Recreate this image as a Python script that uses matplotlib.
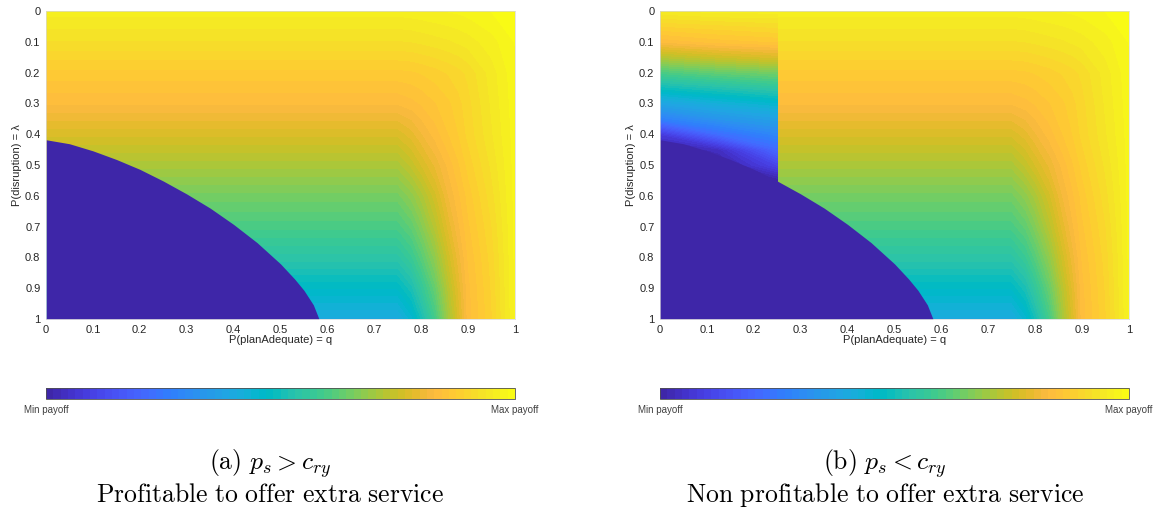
import numpy as np
import matplotlib
matplotlib.use("Agg")
import matplotlib.pyplot as plt
from matplotlib.colors import ListedColormap, Normalize
from matplotlib.colorbar import ColorbarBase

# ---------------- data ----------------
# main payoff field, normalised 0 (min) .. 1 (max); rows = lambda, cols = q
q_nodes = [0.0, 0.75, 0.78, 0.80, 0.83, 0.86, 0.88, 0.90, 0.95, 1.0]
lam_nodes = [0.0, 0.1, 0.2, 0.3, 0.4, 0.5, 0.6, 0.7, 0.8, 0.9, 1.0]
payoff_main = [
    [0.960, 0.960, 0.962, 0.964, 0.967, 0.970, 0.972, 0.975, 0.985, 0.995],
    [0.920, 0.920, 0.922, 0.925, 0.930, 0.935, 0.940, 0.945, 0.962, 0.985],
    [0.870, 0.870, 0.872, 0.876, 0.883, 0.893, 0.900, 0.910, 0.945, 0.980],
    [0.830, 0.830, 0.838, 0.845, 0.858, 0.872, 0.885, 0.900, 0.940, 0.978],
    [0.770, 0.770, 0.790, 0.810, 0.835, 0.860, 0.875, 0.895, 0.935, 0.976],
    [0.710, 0.710, 0.740, 0.765, 0.800, 0.835, 0.857, 0.880, 0.925, 0.975],
    [0.650, 0.650, 0.680, 0.710, 0.760, 0.815, 0.840, 0.865, 0.915, 0.974],
    [0.600, 0.600, 0.630, 0.665, 0.725, 0.790, 0.825, 0.855, 0.905, 0.973],
    [0.540, 0.540, 0.575, 0.615, 0.680, 0.760, 0.805, 0.845, 0.897, 0.972],
    [0.470, 0.470, 0.510, 0.560, 0.635, 0.730, 0.785, 0.838, 0.892, 0.971],
    [0.400, 0.400, 0.445, 0.500, 0.590, 0.705, 0.770, 0.835, 0.888, 0.970],
]

# left strip of panel (b) (q < 0.25): extra service not profitable
strip_q = [0.0, 0.125, 0.25]
strip_lam = [0.0, 0.05, 0.1, 0.15, 0.2, 0.25, 0.3, 0.35, 0.4, 0.45, 0.5, 0.55, 1.0]
payoff_strip = [
    [0.95, 0.96, 0.96],
    [0.89, 0.90, 0.91],
    [0.83, 0.85, 0.86],
    [0.72, 0.75, 0.77],
    [0.60, 0.63, 0.65],
    [0.49, 0.52, 0.55],
    [0.38, 0.42, 0.45],
    [0.27, 0.33, 0.37],
    [0.08, 0.22, 0.29],
    [0.00, 0.04, 0.21],
    [0.00, 0.00, 0.11],
    [0.00, 0.00, 0.00],
    [0.00, 0.00, 0.00],
]

# boundary of the minimum-payoff region
boundary_q = [0.0, 0.05, 0.1, 0.15, 0.2, 0.25, 0.3, 0.35, 0.4, 0.45, 0.5, 0.53, 0.55, 0.57, 0.582]
boundary_lam = [0.418, 0.431, 0.454, 0.482, 0.514, 0.552, 0.594, 0.640, 0.693, 0.752, 0.821,
                0.870, 0.907, 0.954, 1.0]

tick_values = [0, 0.1, 0.2, 0.3, 0.4, 0.5, 0.6, 0.7, 0.8, 0.9, 1]
tick_labels = ["0", "0.1", "0.2", "0.3", "0.4", "0.5", "0.6", "0.7", "0.8", "0.9", "1"]
cbar_labels = ["Min payoff", "Max payoff"]
captions = [
    (r"$\mathrm{(a)}\ p_s > c_{ry}$", r"$\mathrm{Profitable\ to\ offer\ extra\ service}$"),
    (r"$\mathrm{(b)}\ p_s < c_{ry}$", r"$\mathrm{Non\ profitable\ to\ offer\ extra\ service}$"),
]

# ---------------- style ----------------
PARULA = [
    (0.2422, 0.1504, 0.6603), (0.2504, 0.1650, 0.7076), (0.2578, 0.1818, 0.7511), (0.2647, 0.1978, 0.7952),
    (0.2706, 0.2147, 0.8364), (0.2751, 0.2342, 0.8710), (0.2783, 0.2559, 0.8991), (0.2803, 0.2782, 0.9221),
    (0.2813, 0.3006, 0.9414), (0.2810, 0.3228, 0.9579), (0.2795, 0.3447, 0.9717), (0.2760, 0.3667, 0.9829),
    (0.2699, 0.3892, 0.9906), (0.2602, 0.4123, 0.9952), (0.2440, 0.4358, 0.9988), (0.2206, 0.4603, 0.9973),
    (0.1963, 0.4847, 0.9892), (0.1834, 0.5074, 0.9798), (0.1786, 0.5289, 0.9682), (0.1764, 0.5499, 0.9520),
    (0.1687, 0.5703, 0.9359), (0.1540, 0.5902, 0.9218), (0.1460, 0.6091, 0.9079), (0.1380, 0.6276, 0.8973),
    (0.1248, 0.6459, 0.8883), (0.1113, 0.6635, 0.8763), (0.0952, 0.6798, 0.8598), (0.0689, 0.6948, 0.8394),
    (0.0297, 0.7082, 0.8163), (0.0036, 0.7203, 0.7917), (0.0067, 0.7312, 0.7660), (0.0433, 0.7411, 0.7394),
    (0.0964, 0.7500, 0.7120), (0.1408, 0.7584, 0.6842), (0.1717, 0.7670, 0.6554), (0.1938, 0.7758, 0.6251),
    (0.2161, 0.7843, 0.5923), (0.2470, 0.7918, 0.5567), (0.2906, 0.7973, 0.5188), (0.3406, 0.8008, 0.4789),
    (0.3909, 0.8029, 0.4354), (0.4456, 0.8024, 0.3909), (0.5044, 0.7993, 0.3480), (0.5616, 0.7942, 0.3045),
    (0.6174, 0.7876, 0.2612), (0.6720, 0.7793, 0.2227), (0.7242, 0.7698, 0.1910), (0.7738, 0.7598, 0.1646),
    (0.8203, 0.7498, 0.1535), (0.8634, 0.7406, 0.1596), (0.9035, 0.7330, 0.1774), (0.9393, 0.7288, 0.2100),
    (0.9728, 0.7298, 0.2394), (0.9956, 0.7434, 0.2371), (0.9970, 0.7659, 0.2199), (0.9952, 0.7893, 0.2028),
    (0.9892, 0.8136, 0.1885), (0.9786, 0.8386, 0.1766), (0.9676, 0.8639, 0.1643), (0.9610, 0.8890, 0.1537),
    (0.9597, 0.9135, 0.1423), (0.9628, 0.9373, 0.1265), (0.9691, 0.9606, 0.1064), (0.9769, 0.9839, 0.0805),
]
parula = ListedColormap(PARULA, name="parula")
plt.rcParams["mathtext.fontset"] = "cm"
plt.rcParams["font.family"] = ["Liberation Sans", "DejaVu Sans"]

W, H = 1158, 512
fig = plt.figure(figsize=(W / 100, H / 100), dpi=100)
fig.patch.set_facecolor("white")

def fx(px):
    return px / W

def fy(py):
    return 1 - py / H

axes_left = [46, 660]
axes_w = 469
levels = np.linspace(0, 1, 129)
txt_col = "#262626"

for i, x0 in enumerate(axes_left):
    ax = fig.add_axes([fx(x0), fy(319), axes_w / W, 308 / H])
    ax.contourf(q_nodes, lam_nodes, np.array(payoff_main), levels=levels, cmap=parula,
                vmin=0, vmax=1, antialiased=False)
    if i == 1:
        ax.contourf(strip_q, strip_lam, np.array(payoff_strip), levels=levels, cmap=parula,
                    vmin=0, vmax=1, antialiased=False)
    ax.fill_between(boundary_q, boundary_lam, 1.0, color=parula(0.0), lw=0)
    ax.set_xlim(0, 1)
    ax.set_ylim(1, 0)
    ax.set_xticks(tick_values)
    ax.set_xticklabels(tick_labels)
    ax.set_yticks(tick_values)
    ax.set_yticklabels(tick_labels)
    ax.tick_params(length=0, labelsize=8, colors=txt_col, pad=4)
    for s in ax.spines.values():
        s.set_color("#d8d8d8")
        s.set_linewidth(0.5)
    ax.set_xlabel("P(planAdequate) = q", fontsize=8, color=txt_col, labelpad=0)
    ax.set_ylabel("P(disruption) = λ", fontsize=8, color=txt_col, labelpad=2)

    cax = fig.add_axes([fx(x0), fy(399), axes_w / W, 11 / H])
    cb = ColorbarBase(cax, cmap=parula, norm=Normalize(0, 1), orientation="horizontal", ticks=[0, 1])
    cb.set_ticklabels(cbar_labels)
    cax.tick_params(length=0, labelsize=7, colors="#404040", pad=4)
    cb.outline.set_edgecolor("#505050")
    cb.outline.set_linewidth(0.6)

caption_x = [270, 885]
for (l1, l2), cx in zip(captions, caption_x):
    fig.text(fx(cx), fy(464), l1, ha="center", va="center", fontsize=18.5, color="black")
    fig.text(fx(cx), fy(495), l2, ha="center", va="center", fontsize=18.5, color="black")

fig.savefig("out.png", dpi=100, facecolor="white")
